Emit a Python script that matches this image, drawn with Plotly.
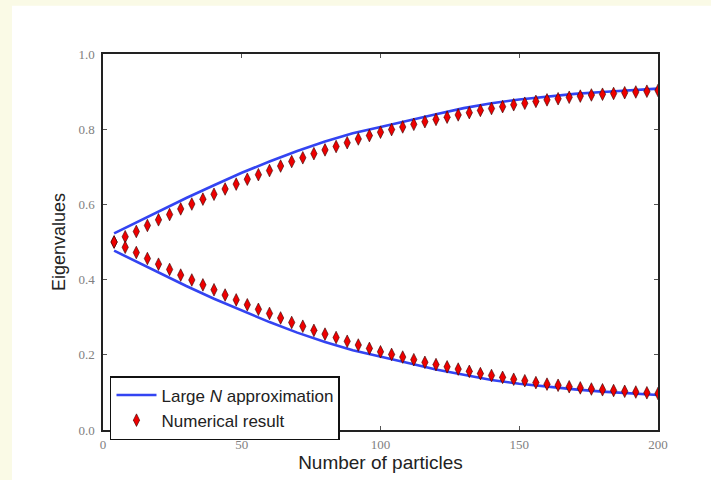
import plotly.graph_objects as go

# Numerical result (markers)
n_points = [4, 8, 12, 16, 20, 24, 28, 32, 36, 40, 44, 48, 52, 56, 60, 64, 68, 72, 76, 80,
            84, 88, 92, 96, 100, 104, 108, 112, 116, 120, 124, 128, 132, 136, 140, 144, 148,
            152, 156, 160, 164, 168, 172, 176, 180, 184, 188, 192, 196, 200]
num_upper = [0.500, 0.514, 0.528, 0.544, 0.559, 0.573, 0.588, 0.601, 0.614, 0.627,
             0.641, 0.654, 0.667, 0.679, 0.690, 0.702, 0.714, 0.724, 0.735, 0.745,
             0.754, 0.764, 0.774, 0.783, 0.792, 0.799, 0.806, 0.813, 0.820, 0.826,
             0.832, 0.838, 0.844, 0.850, 0.855, 0.860, 0.865, 0.869, 0.874, 0.878,
             0.881, 0.885, 0.888, 0.891, 0.893, 0.895, 0.897, 0.899, 0.901, 0.903]
num_lower = [0.500, 0.486, 0.472, 0.456, 0.441, 0.427, 0.412, 0.399, 0.386, 0.373,
             0.359, 0.346, 0.333, 0.321, 0.310, 0.298, 0.286, 0.276, 0.265, 0.255,
             0.246, 0.236, 0.226, 0.217, 0.208, 0.201, 0.194, 0.187, 0.180, 0.174,
             0.168, 0.162, 0.156, 0.150, 0.145, 0.140, 0.135, 0.131, 0.126, 0.122,
             0.119, 0.115, 0.112, 0.109, 0.107, 0.105, 0.103, 0.101, 0.099, 0.097]

# Large N approximation (lines)
n_line = [4, 10, 20, 30, 40, 50, 60, 70, 80, 90, 100, 110, 120, 130, 140, 150, 160, 170, 180, 190, 200]
approx_upper = [0.523, 0.545, 0.582, 0.617, 0.651, 0.684, 0.714, 0.742, 0.767, 0.789, 0.806,
                0.822, 0.840, 0.856, 0.869, 0.879, 0.887, 0.894, 0.899, 0.904, 0.908]
approx_lower = [0.477, 0.455, 0.418, 0.383, 0.349, 0.317, 0.287, 0.259, 0.234, 0.212, 0.194,
                0.178, 0.161, 0.146, 0.133, 0.123, 0.115, 0.108, 0.102, 0.097, 0.093]

x_ticks = [0, 50, 100, 150, 200]
y_ticks = [0.0, 0.2, 0.4, 0.6, 0.8, 1.0]
y_tick_labels = ["0.0", "0.2", "0.4", "0.6", "0.8", "1.0"]

LINE_COLOR = "#3344f2"
MARK = dict(symbol="diamond-tall", size=9, color="#ee0000", line=dict(color="#330000", width=0.6))

fig = go.Figure()
fig.add_trace(go.Scatter(x=n_line, y=approx_upper, mode="lines",
                         line=dict(color=LINE_COLOR, width=2.6),
                         name="Large <i>N</i> approximation", legendgroup="a"))
fig.add_trace(go.Scatter(x=n_line, y=approx_lower, mode="lines",
                         line=dict(color=LINE_COLOR, width=2.6),
                         showlegend=False, legendgroup="a"))
fig.add_trace(go.Scatter(x=n_points, y=num_upper, mode="markers", marker=MARK,
                         name="Numerical result", legendgroup="b"))
fig.add_trace(go.Scatter(x=n_points, y=num_lower, mode="markers", marker=MARK,
                         showlegend=False, legendgroup="b"))

tickfont = dict(family="Liberation Serif", size=13, color="#808080")
axis_common = dict(showgrid=False, zeroline=False, showline=True, linecolor="#222222",
                   linewidth=1.5, mirror="ticks", ticks="inside", ticklen=4,
                   tickcolor="#555555", tickwidth=1, tickfont=tickfont)

fig.update_layout(
    width=711, height=480,
    margin=dict(l=103, r=53, t=54, b=43),
    paper_bgcolor="#fafae6",
    plot_bgcolor="white",
    xaxis=dict(range=[0, 200], tickvals=x_ticks, ticktext=[str(v) for v in x_ticks],
               ticklabelstandoff=2,
               title=dict(text="Number of particles", standoff=2,
                          font=dict(family="Liberation Sans", size=19, color="#222222")),
               **axis_common),
    yaxis=dict(range=[0, 1], tickvals=y_ticks, ticktext=y_tick_labels,
               ticklabelstandoff=4,
               title=dict(text="Eigenvalues", standoff=8,
                          font=dict(family="Liberation Sans", size=18, color="#222222")),
               **axis_common),
    legend=dict(x=0.0126, y=0.1436, xanchor="left", yanchor="top",
                bgcolor="white", bordercolor="#111111", borderwidth=1.5,
                font=dict(family="Liberation Sans", size=17, color="#222222"),
                tracegroupgap=0, itemwidth=40),
    shapes=[dict(type="rect", xref="paper", yref="paper", layer="below",
                 x0=-0.164, x1=1.2, y0=-0.2, y1=1.128,
                 fillcolor="white", line=dict(width=0))],
)

fig.write_html("out.html")
